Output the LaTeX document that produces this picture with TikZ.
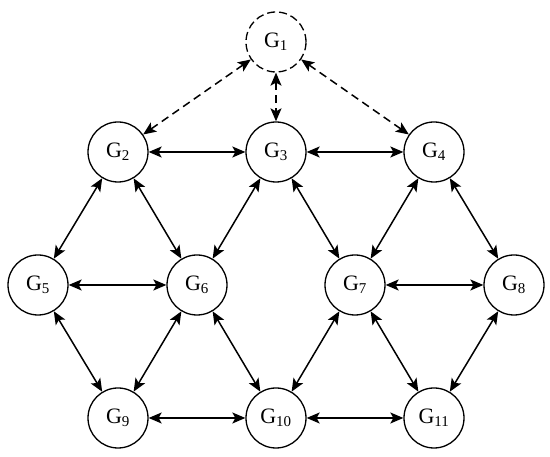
\documentclass[tikz,border=0pt]{standalone}
\usepackage{fontspec}
\setmainfont{Liberation Serif}
\usetikzlibrary{arrows.meta}
\tikzset{
  gnode/.style={draw, circle, line width=1.3pt, minimum size=60pt, inner sep=0pt,
                font=\fontsize{22}{24}\selectfont},
  link/.style={{Stealth[length=13pt,width=11pt,inset=3pt]}-{Stealth[length=13pt,width=11pt,inset=3pt]},
               line width=1.5pt},
  dlink/.style={link, dash pattern=on 8pt off 5pt}
}
\newcommand{\gname}[1]{G\textsubscript{\fontsize{15}{15}\selectfont #1}}
\begin{document}
\begin{tikzpicture}[x=1pt, y=1pt]
  \useasboundingbox (0,0) rectangle (550,457);
  \node (g1)  [gnode, dash pattern=on 8pt off 4pt] at (276,415) {\gname{1}};
  \node (g2)  [gnode] at (118,305) {\gname{2}};
  \node (g3)  [gnode] at (276,305) {\gname{3}};
  \node (g4)  [gnode] at (434,305) {\gname{4}};
  \node (g5)  [gnode] at (38,172)  {\gname{5}};
  \node (g6)  [gnode] at (197,172) {\gname{6}};
  \node (g7)  [gnode] at (355,172) {\gname{7}};
  \node (g8)  [gnode] at (514,172) {\gname{8}};
  \node (g9)  [gnode] at (118,39)  {\gname{9}};
  \node (g10) [gnode] at (276,39)  {\gname{10}};
  \node (g11) [gnode] at (434,39)  {\gname{11}};

  \draw[dlink] (g1) -- (g2);
  \draw[dlink] (g1) -- (g3);
  \draw[dlink] (g1) -- (g4);

  \draw[link] (g2) -- (g3);
  \draw[link] (g3) -- (g4);
  \draw[link] (g2) -- (g5);
  \draw[link] (g2) -- (g6);
  \draw[link] (g3) -- (g6);
  \draw[link] (g3) -- (g7);
  \draw[link] (g4) -- (g7);
  \draw[link] (g4) -- (g8);
  \draw[link] (g5) -- (g6);
  \draw[link] (g7) -- (g8);
  \draw[link] (g5) -- (g9);
  \draw[link] (g6) -- (g9);
  \draw[link] (g6) -- (g10);
  \draw[link] (g7) -- (g10);
  \draw[link] (g7) -- (g11);
  \draw[link] (g8) -- (g11);
  \draw[link] (g9) -- (g10);
  \draw[link] (g10) -- (g11);
\end{tikzpicture}
\end{document}
